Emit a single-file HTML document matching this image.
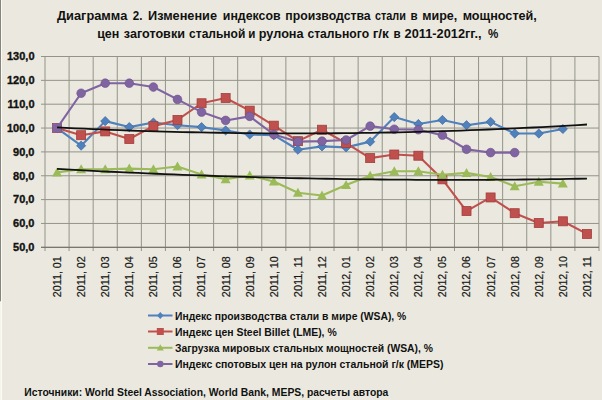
<!DOCTYPE html><html><head><meta charset="utf-8"><style>html,body{margin:0;padding:0;background:#ebe9df;}svg{display:block;}text{font-family:"Liberation Sans",sans-serif;font-weight:bold;fill:#111;}</style></head><body>
<svg width="602" height="400" viewBox="0 0 602 400">
<rect x="0" y="0" width="602" height="400" fill="#ebe9df"/>
<rect x="0" y="0" width="1" height="301.5" fill="#85857d"/>
<rect x="0" y="301.5" width="1" height="98.5" fill="#f6f5ec"/>
<rect x="1" y="0" width="1" height="400" fill="#fbfbf3"/>
<text x="57.00" y="20.30" font-size="12.60" textLength="70.26" lengthAdjust="spacingAndGlyphs">Диаграмма</text>
<text x="132.80" y="20.30" font-size="12.60" textLength="9.67" lengthAdjust="spacingAndGlyphs">2.</text>
<text x="148.00" y="20.30" font-size="12.60" textLength="69.02" lengthAdjust="spacingAndGlyphs">Изменение</text>
<text x="222.80" y="20.30" font-size="12.60" textLength="57.78" lengthAdjust="spacingAndGlyphs">индексов</text>
<text x="285.30" y="20.30" font-size="12.60" textLength="85.38" lengthAdjust="spacingAndGlyphs">производства</text>
<text x="375.00" y="20.30" font-size="12.60" textLength="30.90" lengthAdjust="spacingAndGlyphs">стали</text>
<text x="410.50" y="20.30" font-size="12.60" textLength="7.13" lengthAdjust="spacingAndGlyphs">в</text>
<text x="422.30" y="20.30" font-size="12.60" textLength="34.99" lengthAdjust="spacingAndGlyphs">мире,</text>
<text x="462.70" y="20.30" font-size="12.60" textLength="74.16" lengthAdjust="spacingAndGlyphs">мощностей,</text>
<text x="97.20" y="38.30" font-size="12.60" textLength="22.16" lengthAdjust="spacingAndGlyphs">цен</text>
<text x="123.80" y="38.30" font-size="12.60" textLength="61.16" lengthAdjust="spacingAndGlyphs">заготовки</text>
<text x="189.10" y="38.30" font-size="12.60" textLength="56.22" lengthAdjust="spacingAndGlyphs">стальной</text>
<text x="248.20" y="38.30" font-size="12.60" textLength="7.13" lengthAdjust="spacingAndGlyphs">и</text>
<text x="258.80" y="38.30" font-size="12.60" textLength="44.79" lengthAdjust="spacingAndGlyphs">рулона</text>
<text x="307.40" y="38.30" font-size="12.60" textLength="61.71" lengthAdjust="spacingAndGlyphs">стального</text>
<text x="372.70" y="38.30" font-size="12.60" textLength="16.23" lengthAdjust="spacingAndGlyphs">г/к</text>
<text x="393.60" y="38.30" font-size="12.60" textLength="7.13" lengthAdjust="spacingAndGlyphs">в</text>
<text x="404.60" y="38.30" font-size="12.60" textLength="76.94" lengthAdjust="spacingAndGlyphs">2011-2012гг.,</text>
<text x="487.90" y="38.30" font-size="12.60" textLength="10.31" lengthAdjust="spacingAndGlyphs">%</text>
<path d="M41.00 247.30H599.00M41.00 223.45H599.00M41.00 199.60H599.00M41.00 175.75H599.00M41.00 151.90H599.00M41.00 128.05H599.00M41.00 104.20H599.00M41.00 80.35H599.00M41.00 56.50H599.00M45.00 56.50V251.00M69.09 56.50V251.00M93.17 56.50V251.00M117.26 56.50V251.00M141.35 56.50V251.00M165.43 56.50V251.00M189.52 56.50V251.00M213.61 56.50V251.00M237.70 56.50V251.00M261.78 56.50V251.00M285.87 56.50V251.00M309.96 56.50V251.00M334.04 56.50V251.00M358.13 56.50V251.00M382.22 56.50V251.00M406.30 56.50V251.00M430.39 56.50V251.00M454.48 56.50V251.00M478.57 56.50V251.00M502.65 56.50V251.00M526.74 56.50V251.00M550.83 56.50V251.00M574.91 56.50V251.00M599.00 56.50V251.00" stroke="#949389" stroke-width="1" fill="none"/>
<path d="M41 247.30H599.00" stroke="#6e6d66" stroke-width="1"/>
<text x="34.5" y="251.10" font-size="11" text-anchor="end" stroke="#111" stroke-width="0.35">50,0</text>
<text x="34.5" y="227.25" font-size="11" text-anchor="end" stroke="#111" stroke-width="0.35">60,0</text>
<text x="34.5" y="203.40" font-size="11" text-anchor="end" stroke="#111" stroke-width="0.35">70,0</text>
<text x="34.5" y="179.55" font-size="11" text-anchor="end" stroke="#111" stroke-width="0.35">80,0</text>
<text x="34.5" y="155.70" font-size="11" text-anchor="end" stroke="#111" stroke-width="0.35">90,0</text>
<text x="34.5" y="131.85" font-size="11" text-anchor="end" stroke="#111" stroke-width="0.35">100,0</text>
<text x="34.5" y="108.00" font-size="11" text-anchor="end" stroke="#111" stroke-width="0.35">110,0</text>
<text x="34.5" y="84.15" font-size="11" text-anchor="end" stroke="#111" stroke-width="0.35">120,0</text>
<text x="34.5" y="60.30" font-size="11" text-anchor="end" stroke="#111" stroke-width="0.35">130,0</text>
<text transform="translate(60.94 297.2) rotate(-90)" x="0" y="0" font-size="10.6" style="font-weight:normal" stroke="#222" stroke-width="0.2" textLength="41" lengthAdjust="spacingAndGlyphs">2011, 01</text>
<text transform="translate(85.03 297.2) rotate(-90)" x="0" y="0" font-size="10.6" style="font-weight:normal" stroke="#222" stroke-width="0.2" textLength="41" lengthAdjust="spacingAndGlyphs">2011, 02</text>
<text transform="translate(109.12 297.2) rotate(-90)" x="0" y="0" font-size="10.6" style="font-weight:normal" stroke="#222" stroke-width="0.2" textLength="41" lengthAdjust="spacingAndGlyphs">2011, 03</text>
<text transform="translate(133.20 297.2) rotate(-90)" x="0" y="0" font-size="10.6" style="font-weight:normal" stroke="#222" stroke-width="0.2" textLength="41" lengthAdjust="spacingAndGlyphs">2011, 04</text>
<text transform="translate(157.29 297.2) rotate(-90)" x="0" y="0" font-size="10.6" style="font-weight:normal" stroke="#222" stroke-width="0.2" textLength="41" lengthAdjust="spacingAndGlyphs">2011, 05</text>
<text transform="translate(181.38 297.2) rotate(-90)" x="0" y="0" font-size="10.6" style="font-weight:normal" stroke="#222" stroke-width="0.2" textLength="41" lengthAdjust="spacingAndGlyphs">2011, 06</text>
<text transform="translate(205.47 297.2) rotate(-90)" x="0" y="0" font-size="10.6" style="font-weight:normal" stroke="#222" stroke-width="0.2" textLength="41" lengthAdjust="spacingAndGlyphs">2011, 07</text>
<text transform="translate(229.55 297.2) rotate(-90)" x="0" y="0" font-size="10.6" style="font-weight:normal" stroke="#222" stroke-width="0.2" textLength="41" lengthAdjust="spacingAndGlyphs">2011, 08</text>
<text transform="translate(253.64 297.2) rotate(-90)" x="0" y="0" font-size="10.6" style="font-weight:normal" stroke="#222" stroke-width="0.2" textLength="41" lengthAdjust="spacingAndGlyphs">2011, 09</text>
<text transform="translate(277.73 297.2) rotate(-90)" x="0" y="0" font-size="10.6" style="font-weight:normal" stroke="#222" stroke-width="0.2" textLength="41" lengthAdjust="spacingAndGlyphs">2011, 10</text>
<text transform="translate(301.81 297.2) rotate(-90)" x="0" y="0" font-size="10.6" style="font-weight:normal" stroke="#222" stroke-width="0.2" textLength="41" lengthAdjust="spacingAndGlyphs">2011, 11</text>
<text transform="translate(325.90 297.2) rotate(-90)" x="0" y="0" font-size="10.6" style="font-weight:normal" stroke="#222" stroke-width="0.2" textLength="41" lengthAdjust="spacingAndGlyphs">2011, 12</text>
<text transform="translate(349.99 297.2) rotate(-90)" x="0" y="0" font-size="10.6" style="font-weight:normal" stroke="#222" stroke-width="0.2" textLength="41" lengthAdjust="spacingAndGlyphs">2012, 01</text>
<text transform="translate(374.07 297.2) rotate(-90)" x="0" y="0" font-size="10.6" style="font-weight:normal" stroke="#222" stroke-width="0.2" textLength="41" lengthAdjust="spacingAndGlyphs">2012, 02</text>
<text transform="translate(398.16 297.2) rotate(-90)" x="0" y="0" font-size="10.6" style="font-weight:normal" stroke="#222" stroke-width="0.2" textLength="41" lengthAdjust="spacingAndGlyphs">2012, 03</text>
<text transform="translate(422.25 297.2) rotate(-90)" x="0" y="0" font-size="10.6" style="font-weight:normal" stroke="#222" stroke-width="0.2" textLength="41" lengthAdjust="spacingAndGlyphs">2012, 04</text>
<text transform="translate(446.33 297.2) rotate(-90)" x="0" y="0" font-size="10.6" style="font-weight:normal" stroke="#222" stroke-width="0.2" textLength="41" lengthAdjust="spacingAndGlyphs">2012, 05</text>
<text transform="translate(470.42 297.2) rotate(-90)" x="0" y="0" font-size="10.6" style="font-weight:normal" stroke="#222" stroke-width="0.2" textLength="41" lengthAdjust="spacingAndGlyphs">2012, 06</text>
<text transform="translate(494.51 297.2) rotate(-90)" x="0" y="0" font-size="10.6" style="font-weight:normal" stroke="#222" stroke-width="0.2" textLength="41" lengthAdjust="spacingAndGlyphs">2012, 07</text>
<text transform="translate(518.60 297.2) rotate(-90)" x="0" y="0" font-size="10.6" style="font-weight:normal" stroke="#222" stroke-width="0.2" textLength="41" lengthAdjust="spacingAndGlyphs">2012, 08</text>
<text transform="translate(542.68 297.2) rotate(-90)" x="0" y="0" font-size="10.6" style="font-weight:normal" stroke="#222" stroke-width="0.2" textLength="41" lengthAdjust="spacingAndGlyphs">2012, 09</text>
<text transform="translate(566.77 297.2) rotate(-90)" x="0" y="0" font-size="10.6" style="font-weight:normal" stroke="#222" stroke-width="0.2" textLength="41" lengthAdjust="spacingAndGlyphs">2012, 10</text>
<text transform="translate(590.86 297.2) rotate(-90)" x="0" y="0" font-size="10.6" style="font-weight:normal" stroke="#222" stroke-width="0.2" textLength="41" lengthAdjust="spacingAndGlyphs">2012, 11</text>
<polyline points="57.04,128.05 81.13,145.70 105.22,121.13 129.30,127.10 153.39,122.56 177.48,125.19 201.57,127.10 225.65,130.44 249.74,134.49 273.83,135.21 297.91,149.75 322.00,146.41 346.09,147.37 370.17,141.64 394.26,117.08 418.35,124.00 442.43,119.94 466.52,125.19 490.61,121.85 514.70,133.54 538.78,133.54 562.87,129.00" stroke="#4f81bd" stroke-width="2.1" fill="none" stroke-linejoin="round" stroke-linecap="round"/>
<path d="M57.04 123.45L61.64 128.05L57.04 132.65L52.44 128.05Z" fill="#4f81bd" stroke="#40699c" stroke-width="0.7"/>
<path d="M81.13 141.10L85.73 145.70L81.13 150.30L76.53 145.70Z" fill="#4f81bd" stroke="#40699c" stroke-width="0.7"/>
<path d="M105.22 116.53L109.82 121.13L105.22 125.73L100.62 121.13Z" fill="#4f81bd" stroke="#40699c" stroke-width="0.7"/>
<path d="M129.30 122.50L133.90 127.10L129.30 131.70L124.70 127.10Z" fill="#4f81bd" stroke="#40699c" stroke-width="0.7"/>
<path d="M153.39 117.96L157.99 122.56L153.39 127.16L148.79 122.56Z" fill="#4f81bd" stroke="#40699c" stroke-width="0.7"/>
<path d="M177.48 120.59L182.08 125.19L177.48 129.79L172.88 125.19Z" fill="#4f81bd" stroke="#40699c" stroke-width="0.7"/>
<path d="M201.57 122.50L206.17 127.10L201.57 131.70L196.97 127.10Z" fill="#4f81bd" stroke="#40699c" stroke-width="0.7"/>
<path d="M225.65 125.84L230.25 130.44L225.65 135.03L221.05 130.44Z" fill="#4f81bd" stroke="#40699c" stroke-width="0.7"/>
<path d="M249.74 129.89L254.34 134.49L249.74 139.09L245.14 134.49Z" fill="#4f81bd" stroke="#40699c" stroke-width="0.7"/>
<path d="M273.83 130.61L278.43 135.21L273.83 139.81L269.23 135.21Z" fill="#4f81bd" stroke="#40699c" stroke-width="0.7"/>
<path d="M297.91 145.15L302.51 149.75L297.91 154.35L293.31 149.75Z" fill="#4f81bd" stroke="#40699c" stroke-width="0.7"/>
<path d="M322.00 141.81L326.60 146.41L322.00 151.01L317.40 146.41Z" fill="#4f81bd" stroke="#40699c" stroke-width="0.7"/>
<path d="M346.09 142.77L350.69 147.37L346.09 151.97L341.49 147.37Z" fill="#4f81bd" stroke="#40699c" stroke-width="0.7"/>
<path d="M370.17 137.04L374.77 141.64L370.17 146.24L365.57 141.64Z" fill="#4f81bd" stroke="#40699c" stroke-width="0.7"/>
<path d="M394.26 112.48L398.86 117.08L394.26 121.68L389.66 117.08Z" fill="#4f81bd" stroke="#40699c" stroke-width="0.7"/>
<path d="M418.35 119.40L422.95 124.00L418.35 128.60L413.75 124.00Z" fill="#4f81bd" stroke="#40699c" stroke-width="0.7"/>
<path d="M442.43 115.34L447.03 119.94L442.43 124.54L437.83 119.94Z" fill="#4f81bd" stroke="#40699c" stroke-width="0.7"/>
<path d="M466.52 120.59L471.12 125.19L466.52 129.79L461.92 125.19Z" fill="#4f81bd" stroke="#40699c" stroke-width="0.7"/>
<path d="M490.61 117.25L495.21 121.85L490.61 126.45L486.01 121.85Z" fill="#4f81bd" stroke="#40699c" stroke-width="0.7"/>
<path d="M514.70 128.94L519.30 133.54L514.70 138.14L510.10 133.54Z" fill="#4f81bd" stroke="#40699c" stroke-width="0.7"/>
<path d="M538.78 128.94L543.38 133.54L538.78 138.14L534.18 133.54Z" fill="#4f81bd" stroke="#40699c" stroke-width="0.7"/>
<path d="M562.87 124.40L567.47 129.00L562.87 133.60L558.27 129.00Z" fill="#4f81bd" stroke="#40699c" stroke-width="0.7"/>
<polyline points="57.04,128.05 81.13,135.21 105.22,131.39 129.30,139.02 153.39,126.14 177.48,119.94 201.57,103.25 225.65,98.00 249.74,110.64 273.83,125.66 297.91,141.17 322.00,129.72 346.09,143.08 370.17,158.10 394.26,154.52 418.35,155.72 442.43,179.33 466.52,211.05 490.61,197.45 514.70,213.19 538.78,222.97 562.87,221.30 586.96,233.94" stroke="#c0504d" stroke-width="2.1" fill="none" stroke-linejoin="round" stroke-linecap="round"/>
<rect x="52.54" y="123.55" width="9.00" height="9.00" fill="#c0504d" stroke="#a13f3c" stroke-width="0.8"/>
<rect x="76.63" y="130.71" width="9.00" height="9.00" fill="#c0504d" stroke="#a13f3c" stroke-width="0.8"/>
<rect x="100.72" y="126.89" width="9.00" height="9.00" fill="#c0504d" stroke="#a13f3c" stroke-width="0.8"/>
<rect x="124.80" y="134.52" width="9.00" height="9.00" fill="#c0504d" stroke="#a13f3c" stroke-width="0.8"/>
<rect x="148.89" y="121.64" width="9.00" height="9.00" fill="#c0504d" stroke="#a13f3c" stroke-width="0.8"/>
<rect x="172.98" y="115.44" width="9.00" height="9.00" fill="#c0504d" stroke="#a13f3c" stroke-width="0.8"/>
<rect x="197.07" y="98.75" width="9.00" height="9.00" fill="#c0504d" stroke="#a13f3c" stroke-width="0.8"/>
<rect x="221.15" y="93.50" width="9.00" height="9.00" fill="#c0504d" stroke="#a13f3c" stroke-width="0.8"/>
<rect x="245.24" y="106.14" width="9.00" height="9.00" fill="#c0504d" stroke="#a13f3c" stroke-width="0.8"/>
<rect x="269.33" y="121.16" width="9.00" height="9.00" fill="#c0504d" stroke="#a13f3c" stroke-width="0.8"/>
<rect x="293.41" y="136.67" width="9.00" height="9.00" fill="#c0504d" stroke="#a13f3c" stroke-width="0.8"/>
<rect x="317.50" y="125.22" width="9.00" height="9.00" fill="#c0504d" stroke="#a13f3c" stroke-width="0.8"/>
<rect x="341.59" y="138.58" width="9.00" height="9.00" fill="#c0504d" stroke="#a13f3c" stroke-width="0.8"/>
<rect x="365.67" y="153.60" width="9.00" height="9.00" fill="#c0504d" stroke="#a13f3c" stroke-width="0.8"/>
<rect x="389.76" y="150.02" width="9.00" height="9.00" fill="#c0504d" stroke="#a13f3c" stroke-width="0.8"/>
<rect x="413.85" y="151.22" width="9.00" height="9.00" fill="#c0504d" stroke="#a13f3c" stroke-width="0.8"/>
<rect x="437.93" y="174.83" width="9.00" height="9.00" fill="#c0504d" stroke="#a13f3c" stroke-width="0.8"/>
<rect x="462.02" y="206.55" width="9.00" height="9.00" fill="#c0504d" stroke="#a13f3c" stroke-width="0.8"/>
<rect x="486.11" y="192.95" width="9.00" height="9.00" fill="#c0504d" stroke="#a13f3c" stroke-width="0.8"/>
<rect x="510.20" y="208.69" width="9.00" height="9.00" fill="#c0504d" stroke="#a13f3c" stroke-width="0.8"/>
<rect x="534.28" y="218.47" width="9.00" height="9.00" fill="#c0504d" stroke="#a13f3c" stroke-width="0.8"/>
<rect x="558.37" y="216.80" width="9.00" height="9.00" fill="#c0504d" stroke="#a13f3c" stroke-width="0.8"/>
<rect x="582.46" y="229.44" width="9.00" height="9.00" fill="#c0504d" stroke="#a13f3c" stroke-width="0.8"/>
<polyline points="57.04,172.41 81.13,169.31 105.22,169.31 129.30,168.59 153.39,169.31 177.48,166.45 201.57,174.56 225.65,179.33 249.74,175.51 273.83,181.47 297.91,192.68 322.00,195.55 346.09,185.05 370.17,175.75 394.26,171.22 418.35,171.22 442.43,174.80 466.52,172.89 490.61,176.94 514.70,186.24 538.78,181.71 562.87,183.62" stroke="#9bbb59" stroke-width="2.1" fill="none" stroke-linejoin="round" stroke-linecap="round"/>
<path d="M57.04 167.41L62.04 176.41L52.04 176.41Z" fill="#9bbb59"/>
<path d="M81.13 164.31L86.13 173.31L76.13 173.31Z" fill="#9bbb59"/>
<path d="M105.22 164.31L110.22 173.31L100.22 173.31Z" fill="#9bbb59"/>
<path d="M129.30 163.59L134.30 172.59L124.30 172.59Z" fill="#9bbb59"/>
<path d="M153.39 164.31L158.39 173.31L148.39 173.31Z" fill="#9bbb59"/>
<path d="M177.48 161.45L182.48 170.45L172.48 170.45Z" fill="#9bbb59"/>
<path d="M201.57 169.56L206.57 178.56L196.57 178.56Z" fill="#9bbb59"/>
<path d="M225.65 174.33L230.65 183.33L220.65 183.33Z" fill="#9bbb59"/>
<path d="M249.74 170.51L254.74 179.51L244.74 179.51Z" fill="#9bbb59"/>
<path d="M273.83 176.47L278.83 185.47L268.83 185.47Z" fill="#9bbb59"/>
<path d="M297.91 187.68L302.91 196.68L292.91 196.68Z" fill="#9bbb59"/>
<path d="M322.00 190.55L327.00 199.55L317.00 199.55Z" fill="#9bbb59"/>
<path d="M346.09 180.05L351.09 189.05L341.09 189.05Z" fill="#9bbb59"/>
<path d="M370.17 170.75L375.17 179.75L365.17 179.75Z" fill="#9bbb59"/>
<path d="M394.26 166.22L399.26 175.22L389.26 175.22Z" fill="#9bbb59"/>
<path d="M418.35 166.22L423.35 175.22L413.35 175.22Z" fill="#9bbb59"/>
<path d="M442.43 169.80L447.43 178.80L437.43 178.80Z" fill="#9bbb59"/>
<path d="M466.52 167.89L471.52 176.89L461.52 176.89Z" fill="#9bbb59"/>
<path d="M490.61 171.94L495.61 180.94L485.61 180.94Z" fill="#9bbb59"/>
<path d="M514.70 181.24L519.70 190.24L509.70 190.24Z" fill="#9bbb59"/>
<path d="M538.78 176.71L543.78 185.71L533.78 185.71Z" fill="#9bbb59"/>
<path d="M562.87 178.62L567.87 187.62L557.87 187.62Z" fill="#9bbb59"/>
<polyline points="57.04,128.05 81.13,93.23 105.22,83.21 129.30,83.21 153.39,87.03 177.48,99.43 201.57,112.07 225.65,120.42 249.74,116.36 273.83,134.49 297.91,141.64 322.00,141.17 346.09,139.98 370.17,126.14 394.26,129.24 418.35,129.72 442.43,135.21 466.52,149.28 490.61,152.62 514.70,152.62" stroke="#8064a2" stroke-width="2.1" fill="none" stroke-linejoin="round" stroke-linecap="round"/>
<rect x="52.54" y="123.55" width="9" height="9" fill="#8064a2"/>
<circle cx="81.13" cy="93.23" r="4.35" fill="#8064a2" stroke="#6a5089" stroke-width="0.6"/>
<circle cx="105.22" cy="83.21" r="4.35" fill="#8064a2" stroke="#6a5089" stroke-width="0.6"/>
<circle cx="129.30" cy="83.21" r="4.35" fill="#8064a2" stroke="#6a5089" stroke-width="0.6"/>
<circle cx="153.39" cy="87.03" r="4.35" fill="#8064a2" stroke="#6a5089" stroke-width="0.6"/>
<circle cx="177.48" cy="99.43" r="4.35" fill="#8064a2" stroke="#6a5089" stroke-width="0.6"/>
<circle cx="201.57" cy="112.07" r="4.35" fill="#8064a2" stroke="#6a5089" stroke-width="0.6"/>
<circle cx="225.65" cy="120.42" r="4.35" fill="#8064a2" stroke="#6a5089" stroke-width="0.6"/>
<circle cx="249.74" cy="116.36" r="4.35" fill="#8064a2" stroke="#6a5089" stroke-width="0.6"/>
<circle cx="273.83" cy="134.49" r="4.35" fill="#8064a2" stroke="#6a5089" stroke-width="0.6"/>
<circle cx="297.91" cy="141.64" r="4.35" fill="#8064a2" stroke="#6a5089" stroke-width="0.6"/>
<circle cx="322.00" cy="141.17" r="4.35" fill="#8064a2" stroke="#6a5089" stroke-width="0.6"/>
<circle cx="346.09" cy="139.98" r="4.35" fill="#8064a2" stroke="#6a5089" stroke-width="0.6"/>
<circle cx="370.17" cy="126.14" r="4.35" fill="#8064a2" stroke="#6a5089" stroke-width="0.6"/>
<circle cx="394.26" cy="129.24" r="4.35" fill="#8064a2" stroke="#6a5089" stroke-width="0.6"/>
<circle cx="418.35" cy="129.72" r="4.35" fill="#8064a2" stroke="#6a5089" stroke-width="0.6"/>
<circle cx="442.43" cy="135.21" r="4.35" fill="#8064a2" stroke="#6a5089" stroke-width="0.6"/>
<circle cx="466.52" cy="149.28" r="4.35" fill="#8064a2" stroke="#6a5089" stroke-width="0.6"/>
<circle cx="490.61" cy="152.62" r="4.35" fill="#8064a2" stroke="#6a5089" stroke-width="0.6"/>
<circle cx="514.70" cy="152.62" r="4.35" fill="#8064a2" stroke="#6a5089" stroke-width="0.6"/>
<polyline points="57.04,127.42 66.03,127.86 75.01,128.29 83.99,128.69 92.97,129.08 101.95,129.46 110.93,129.81 119.91,130.15 128.90,130.48 137.88,130.78 146.86,131.07 155.84,131.34 164.82,131.60 173.80,131.83 182.79,132.06 191.77,132.26 200.75,132.45 209.73,132.62 218.71,132.77 227.69,132.91 236.68,133.03 245.66,133.13 254.64,133.22 263.62,133.28 272.60,133.34 281.58,133.37 290.56,133.39 299.55,133.39 308.53,133.38 317.51,133.34 326.49,133.29 335.47,133.23 344.45,133.15 353.44,133.05 362.42,132.93 371.40,132.79 380.38,132.64 389.36,132.48 398.34,132.29 407.32,132.09 416.31,131.87 425.29,131.64 434.27,131.39 443.25,131.12 452.23,130.83 461.21,130.53 470.20,130.21 479.18,129.87 488.16,129.52 497.14,129.15 506.12,128.76 515.10,128.36 524.09,127.94 533.07,127.50 542.05,127.04 551.03,126.57 560.01,126.08 568.99,125.58 577.97,125.06 586.96,124.52" stroke="#111" stroke-width="1.8" fill="none"/>
<polyline points="57.04,168.97 66.03,169.46 75.01,169.94 83.99,170.41 92.97,170.86 101.95,171.31 110.93,171.74 119.91,172.16 128.90,172.57 137.88,172.97 146.86,173.36 155.84,173.74 164.82,174.10 173.80,174.46 182.79,174.80 191.77,175.13 200.75,175.45 209.73,175.76 218.71,176.06 227.69,176.35 236.68,176.63 245.66,176.89 254.64,177.14 263.62,177.38 272.60,177.62 281.58,177.83 290.56,178.04 299.55,178.24 308.53,178.43 317.51,178.60 326.49,178.76 335.47,178.91 344.45,179.06 353.44,179.18 362.42,179.30 371.40,179.41 380.38,179.51 389.36,179.59 398.34,179.66 407.32,179.72 416.31,179.78 425.29,179.81 434.27,179.84 443.25,179.86 452.23,179.87 461.21,179.86 470.20,179.84 479.18,179.81 488.16,179.78 497.14,179.72 506.12,179.66 515.10,179.59 524.09,179.51 533.07,179.41 542.05,179.30 551.03,179.18 560.01,179.06 568.99,178.91 577.97,178.76 586.96,178.60" stroke="#111" stroke-width="1.8" fill="none"/>
<path d="M148.0 315.5H172.5" stroke="#4f81bd" stroke-width="2"/>
<path d="M160.3 311.9L163.5 315.5L160.3 319.1L157.1 315.5Z" fill="#4f81bd"/>
<text x="175" y="319.5" font-size="10.4" textLength="231.3" lengthAdjust="spacingAndGlyphs">Индекс производства стали в мире (WSA), %</text>
<path d="M148.0 331.5H172.5" stroke="#c0504d" stroke-width="2"/>
<rect x="156.8" y="328.0" width="7" height="7" fill="#c0504d"/>
<text x="175" y="335.5" font-size="10.4" textLength="161.7" lengthAdjust="spacingAndGlyphs">Индекс цен Steel Billet (LME), %</text>
<path d="M148.0 347.8H172.5" stroke="#9bbb59" stroke-width="2"/>
<path d="M160.3 344.3L163.8 350.6L156.8 350.6Z" fill="#9bbb59"/>
<text x="175" y="351.8" font-size="10.4" textLength="258.0" lengthAdjust="spacingAndGlyphs">Загрузка мировых стальных мощностей (WSA), %</text>
<path d="M148.0 364.0H172.5" stroke="#8064a2" stroke-width="2"/>
<circle cx="160.3" cy="364.0" r="3.2" fill="#8064a2"/>
<text x="175" y="368.0" font-size="10.4" textLength="268.5" lengthAdjust="spacingAndGlyphs">Индекс спотовых цен на рулон стальной г/к (MEPS)</text>
<text x="24.3" y="395.8" font-size="10.4" textLength="364" lengthAdjust="spacingAndGlyphs">Источники: World Steel Association, World Bank, MEPS, расчеты автора</text>
</svg></body></html>
